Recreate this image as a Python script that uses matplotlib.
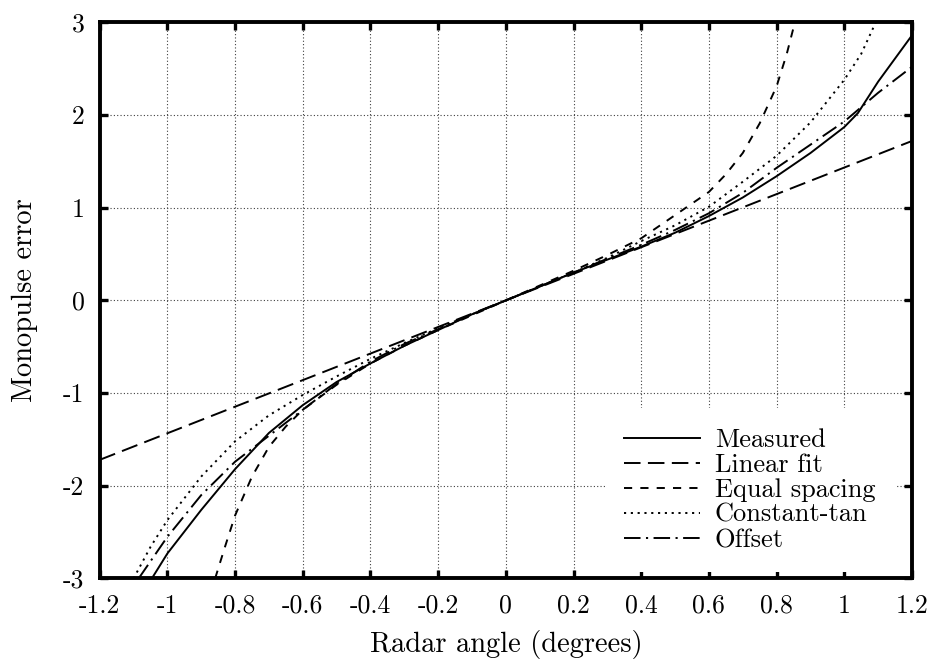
import matplotlib
matplotlib.use("Agg")
import matplotlib.pyplot as plt

# Monopulse error vs radar angle: measured response and four models
measured_x = [-1.046, -1.0, -0.9, -0.8, -0.7, -0.6, -0.5, -0.4, -0.3, -0.2, -0.1, 0.0,
              0.1, 0.2, 0.3, 0.4, 0.5, 0.6, 0.7, 0.8, 0.9, 1.0, 1.04, 1.1, 1.2]
measured_y = [-3.0, -2.73, -2.26, -1.82, -1.43, -1.13, -0.88, -0.68, -0.49, -0.32, -0.15, 0.0,
              0.15, 0.30, 0.44, 0.58, 0.73, 0.91, 1.11, 1.34, 1.59, 1.87, 2.02, 2.36, 2.86]

linear_x = [-1.2, 1.2]
linear_y = [-1.72, 1.72]

equal_x = [-0.859, -0.83, -0.8, -0.75, -0.7, -0.65, -0.6, -0.5, -0.4, -0.3, -0.2, -0.1, 0.0,
           0.1, 0.2, 0.3, 0.4, 0.5, 0.6, 0.65, 0.7, 0.75, 0.8, 0.83, 0.854]
equal_y = [-3.0, -2.66, -2.32, -1.90, -1.58, -1.36, -1.18, -0.91, -0.68, -0.49, -0.32, -0.16, 0.0,
           0.16, 0.32, 0.49, 0.67, 0.92, 1.17, 1.36, 1.59, 1.91, 2.31, 2.66, 3.0]

const_tan_x = [-1.10, -1.05, -1.0, -0.9, -0.8, -0.7, -0.6, -0.5, -0.4, -0.3, -0.2, -0.1, 0.0,
               0.1, 0.2, 0.3, 0.4, 0.5, 0.6, 0.7, 0.8, 0.9, 1.0, 1.05, 1.093]
const_tan_y = [-3.0, -2.66, -2.37, -1.90, -1.52, -1.24, -1.02, -0.82, -0.63, -0.46, -0.30, -0.15, 0.0,
               0.15, 0.30, 0.46, 0.64, 0.81, 1.01, 1.28, 1.56, 1.92, 2.38, 2.66, 3.0]

offset_x = [-1.085, -1.0, -0.9, -0.8, -0.7, -0.6, -0.5, -0.4, -0.3, -0.2, -0.1, 0.0,
            0.1, 0.2, 0.3, 0.4, 0.5, 0.6, 0.7, 0.8, 0.9, 1.0, 1.1, 1.2]
offset_y = [-3.0, -2.55, -2.10, -1.74, -1.46, -1.18, -0.90, -0.66, -0.47, -0.31, -0.15, 0.0,
            0.15, 0.30, 0.45, 0.60, 0.76, 0.94, 1.16, 1.43, 1.68, 1.93, 2.24, 2.52]

x_ticks = [-1.2, -1.0, -0.8, -0.6, -0.4, -0.2, 0.0, 0.2, 0.4, 0.6, 0.8, 1.0, 1.2]
x_tick_labels = ["-1.2", "-1", "-0.8", "-0.6", "-0.4", "-0.2", "0",
                 "0.2", "0.4", "0.6", "0.8", "1", "1.2"]
y_ticks = [-3, -2, -1, 0, 1, 2, 3]
y_tick_labels = ["-3", "-2", "-1", "0", "1", "2", "3"]

plt.rcParams["font.family"] = "cmr10"
plt.rcParams["axes.unicode_minus"] = False
plt.rcParams["axes.formatter.use_mathtext"] = True

fig = plt.figure(figsize=(9.31, 6.6), dpi=100)
ax = fig.add_axes([0.1071, 0.1235, 0.8725, 0.8427])

lw = 1.4
ax.plot(measured_x, measured_y, color="black", lw=lw, ls="-", label="Measured", zorder=4)
ax.plot(linear_x, linear_y, color="black", lw=lw, ls=(0, (8.5, 3.8)), label="Linear fit", zorder=4)
ax.plot(equal_x, equal_y, color="black", lw=lw, ls=(0, (4.2, 4.2)), label="Equal spacing", zorder=4)
ax.plot(const_tan_x, const_tan_y, color="black", lw=lw, ls=(0, (1.1, 2.4)), label="Constant-tan", zorder=4)
ax.plot(offset_x, offset_y, color="black", lw=lw, ls=(0, (8.5, 2.8, 1.1, 2.8)), label="Offset", zorder=4)

ax.set_xlim(-1.2, 1.2)
ax.set_ylim(-3, 3)
ax.set_xticks(x_ticks, x_tick_labels)
ax.set_yticks(y_ticks, y_tick_labels)
ax.tick_params(direction="in", length=6, width=2.4, top=True, right=True,
               labelsize=18.5, color="black")
ax.tick_params(axis="x", pad=11)
ax.tick_params(axis="y", pad=11)
ax.grid(True, color="0.25", lw=0.8, ls=(0, (1, 2)))
ax.set_axisbelow(True)
for sp in ax.spines.values():
    sp.set_linewidth(2.8)

ax.set_xlabel("Radar angle (degrees)", fontsize=20.5, labelpad=9)
ax.set_ylabel("Monopulse error", fontsize=20.5, labelpad=18)

leg = ax.legend(loc="lower right", bbox_to_anchor=(0.979, 0.012), borderaxespad=0,
                fontsize=19, frameon=True, fancybox=False, edgecolor="none",
                framealpha=1.0, handlelength=2.85, handletextpad=0.57,
                labelspacing=0.05, borderpad=0.75)
leg.get_frame().set_linewidth(0)

fig.savefig("out.png", dpi=100)
